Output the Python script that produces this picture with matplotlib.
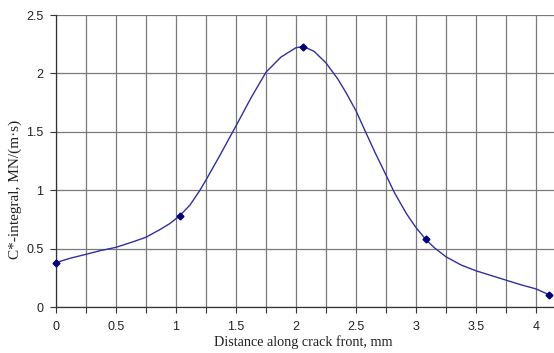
import matplotlib
matplotlib.use('Agg')
import matplotlib.pyplot as plt
from matplotlib.ticker import MultipleLocator

# measured points (markers)
point_x = [0.0, 1.03, 2.06, 3.08, 4.11]
point_y = [0.38, 0.78, 2.23, 0.58, 0.105]

# smoothed curve
curve_x = [0.0, 0.117, 0.25, 0.367, 0.5, 0.644, 0.75, 0.87, 0.95, 1.03, 1.117, 1.2,
           1.25, 1.367, 1.5, 1.625, 1.75, 1.875, 2.0, 2.06, 2.15, 2.25, 2.35, 2.42,
           2.5, 2.575, 2.66, 2.75, 2.82, 2.92, 3.0, 3.08, 3.15, 3.25, 3.375, 3.5,
           3.625, 3.75, 3.875, 4.0, 4.11]
curve_y = [0.38, 0.417, 0.451, 0.482, 0.511, 0.559, 0.597, 0.665, 0.715, 0.78, 0.873, 1.0,
           1.087, 1.30, 1.55, 1.79, 2.01, 2.14, 2.22, 2.23, 2.19, 2.09, 1.95, 1.83,
           1.68, 1.51, 1.32, 1.13, 0.98, 0.80, 0.68, 0.58, 0.51, 0.43, 0.36, 0.31,
           0.27, 0.23, 0.19, 0.155, 0.105]

fig = plt.figure(figsize=(5.54, 3.53), dpi=100)
ax = fig.add_axes([0.101, 0.1303, 0.899, 0.8272])

ax.plot(curve_x, curve_y, color='#3030a0', lw=1.0, zorder=3)
ax.plot(point_x, point_y, 'D', color='#00007a', ms=3.5, zorder=4, clip_on=False)

ax.set_xlim(0, 4.15)
ax.set_ylim(0, 2.5)
ax.xaxis.set_major_locator(MultipleLocator(0.5))
ax.xaxis.set_minor_locator(MultipleLocator(0.25))
ax.yaxis.set_major_locator(MultipleLocator(0.5))
ax.set_xticklabels([f'{v:g}' for v in ax.get_xticks()])
ax.set_yticklabels([f'{v:g}' for v in ax.get_yticks()])

ax.grid(which='both', axis='x', color='#7a7a7a', lw=0.9)
ax.grid(which='major', axis='y', color='#7a7a7a', lw=0.9)
ax.set_axisbelow(True)

for s in ['top', 'right']:
    ax.spines[s].set_visible(False)
for s in ['left', 'bottom']:
    ax.spines[s].set_color('#333333')
    ax.spines[s].set_linewidth(0.9)

ax.tick_params(which='both', length=4, width=0.8, color='#333333',
               labelsize=9, labelcolor='#222222')
ax.tick_params(axis='x', pad=6)
ax.tick_params(axis='y', pad=5)
for t in ax.get_xticklabels() + ax.get_yticklabels():
    t.set_family('Liberation Sans')

ax.set_xlabel('Distance along crack front, mm', family='Liberation Serif',
              fontsize=10.2, color='#222222')
ax.set_ylabel('C*-integral, MN/(m·s)', family='Liberation Serif',
              fontsize=11, color='#222222')
ax.xaxis.set_label_coords(0.497, -0.095)
ax.yaxis.set_label_coords(-0.068, 0.404)

plt.savefig('out.png', dpi=100)
